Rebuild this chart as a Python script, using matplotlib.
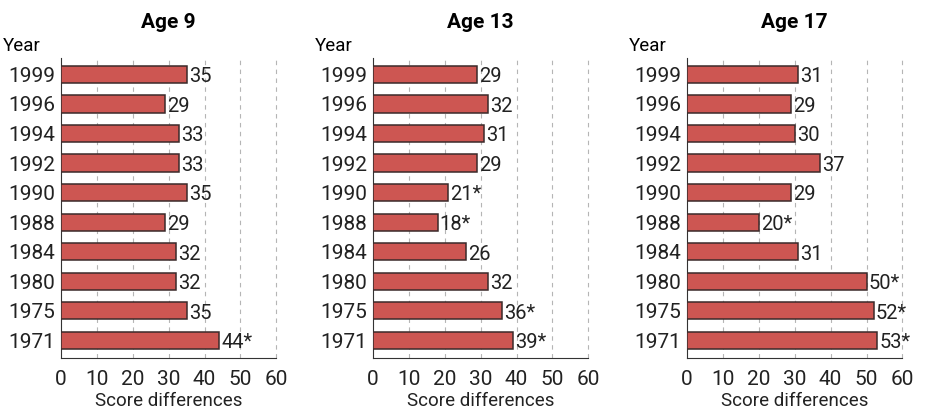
import matplotlib.pyplot as plt

years = ['1999', '1996', '1994', '1992', '1990', '1988', '1984', '1980', '1975', '1971']
ages = ['Age 9', 'Age 13', 'Age 17']
age9 = [35, 29, 33, 33, 35, 29, 32, 32, 35, 44]
age13 = [29, 32, 31, 29, 21, 18, 26, 32, 36, 39]
age17 = [31, 29, 30, 37, 29, 20, 31, 50, 52, 53]
age9_lbl = ['35', '29', '33', '33', '35', '29', '32', '32', '35', '44*']
age13_lbl = ['29', '32', '31', '29', '21*', '18*', '26', '32', '36*', '39*']
age17_lbl = ['31', '29', '30', '37', '29', '20*', '31', '50*', '52*', '53*']

plt.rcParams['font.family'] = ['Roboto', 'DejaVu Sans']

fig = plt.figure(figsize=(9.26, 4.13), dpi=100)
lefts = [0.0659, 0.4028, 0.742]
series = [(age9, age9_lbl), (age13, age13_lbl), (age17, age17_lbl)]

for left, title, (vals, lbls) in zip(lefts, ages, series):
    ax = fig.add_axes([left, 0.1332, 0.2325, 0.726])
    pos = list(range(len(years)))
    ax.barh(pos, vals, height=0.58, color='#cd5652', edgecolor='#3a2a2a', linewidth=1.1, zorder=3)
    for p, v, l in zip(pos, vals, lbls):
        ax.text(v + 0.6, p + 0.08, l, va='center', ha='left', fontsize=14.5, color='#222222', zorder=4)
    ax.set_xlim(0, 60)
    ax.set_ylim(9.6, -0.55)
    ax.set_yticks(pos)
    ax.set_yticklabels(years, fontsize=15, color='#222222')
    ax.set_xticks(range(0, 61, 10))
    ax.tick_params(axis='x', labelsize=15, length=0, pad=9, labelcolor='#222222')
    ax.tick_params(axis='y', length=0, pad=4)
    for x in range(10, 61, 10):
        ax.axvline(x, color='#b5b5b5', linestyle=(0, (4, 4)), linewidth=0.8, zorder=1, clip_on=False)
    ax.spines['top'].set_visible(False)
    ax.spines['right'].set_visible(False)
    ax.spines['left'].set_color('#333333')
    ax.spines['bottom'].set_color('#333333')
    ax.set_xlabel('Score differences', fontsize=13.5, labelpad=2, color='#222222')
    ax.set_title(title, fontsize=15, fontweight='bold', pad=22)
    ax.text(-0.27, 1.01, 'Year', transform=ax.transAxes, fontsize=13.5, ha='left', va='bottom')

fig.savefig('out.png', dpi=100)
